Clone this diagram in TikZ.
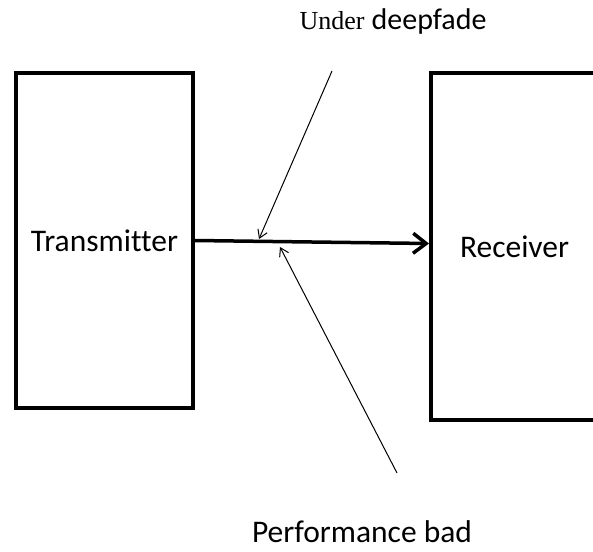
\documentclass[tikz,border=0pt]{standalone}
\usepackage{fontspec}
\setmainfont{Carlito}[Ligatures=CommonOff]
\newfontfamily\underfont{Liberation Serif}
\usetikzlibrary{arrows.meta}

\tikzset{
  block/.style={draw, line width=4pt, inner sep=0pt, font=\fontsize{31.5}{36}\selectfont},
  note/.style={inner sep=0pt, anchor=base, font=\fontsize{31.5}{36}\selectfont},
  signal/.style={line width=3.5pt, -{Straight Barb[length=13pt,width=20pt]}},
  pointer/.style={line width=1pt, -{Straight Barb[length=8pt,width=10pt]}}
}

\begin{document}
\begin{tikzpicture}[x=1pt,y=1pt,yscale=-1,xscale=1]
\useasboundingbox (0,0) rectangle (593,551);

%Shape: Rectangle [transmitter]
\node [block, minimum width=177, minimum height=335] (tx) at (104.5,240.5) {Transmitter};
%Shape: Rectangle [receiver]
\node [block, minimum width=167, minimum height=347] (rx) at (514.5,246.5) {Receiver};

% Text Node
\node [note] (fade) at (393,30) {{\fontsize{26}{30}\underfont Under} {\fontsize{30}{36}\selectfont deepfade}};
% Text Node
\node [note] (bad) at (362,542) {Performance bad};

% Connection
\draw [signal] (tx.east) -- ([yshift=3pt]tx.east -| rx.west);

% free ends of the thin arrows
\coordinate (fadeTop) at (332,71);
\coordinate (fadeHit) at (259,239);
\coordinate (badTail) at (397,473);
\coordinate (badHit) at (280,247);

% Connection
\draw [pointer] (fadeTop) -- (fadeHit);
% Connection
\draw [pointer] (badTail) -- (badHit);

\end{tikzpicture}
\end{document}
